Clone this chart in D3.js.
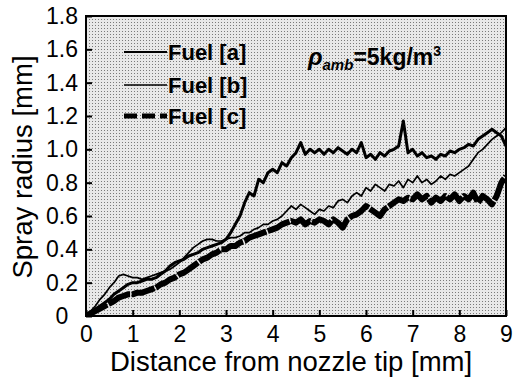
<!DOCTYPE html>
<html>
<head>
<meta charset="utf-8">
<script src="https://cdn.jsdelivr.net/npm/d3@7"></script>
<style>
  body { margin: 0; background: #fff; }
  svg { display: block; font-family: "Liberation Sans", Arial, sans-serif; }
</style>
</head>
<body>
<svg id="chart"></svg>
<script>
// values (spray radius in mm, every 0.1 mm)
var distance = [
  0.0, 0.1, 0.2, 0.3, 0.4, 0.5, 0.6, 0.7, 0.8, 0.9,
  1.0, 1.1, 1.2, 1.3, 1.4, 1.5, 1.6, 1.7, 1.8, 1.9,
  2.0, 2.1, 2.2, 2.3, 2.4, 2.5, 2.6, 2.7, 2.8, 2.9,
  3.0, 3.1, 3.2, 3.3, 3.4, 3.5, 3.6, 3.7, 3.8, 3.9,
  4.0, 4.1, 4.2, 4.3, 4.4, 4.5, 4.6, 4.7, 4.8, 4.9,
  5.0, 5.1, 5.2, 5.3, 5.4, 5.5, 5.6, 5.7, 5.8, 5.9,
  6.0, 6.1, 6.2, 6.3, 6.4, 6.5, 6.6, 6.7, 6.8, 6.9,
  7.0, 7.1, 7.2, 7.3, 7.4, 7.5, 7.6, 7.7, 7.8, 7.9,
  8.0, 8.1, 8.2, 8.3, 8.4, 8.5, 8.6, 8.7, 8.8, 8.9,
  9.0
];

var fuelA = [
  0.00, 0.02, 0.04, 0.06, 0.08, 0.10, 0.13, 0.15, 0.17, 0.19,
  0.20, 0.20, 0.21, 0.22, 0.22, 0.23, 0.25, 0.27, 0.30, 0.32,
  0.33, 0.34, 0.36, 0.37, 0.38, 0.40, 0.41, 0.42, 0.43, 0.44,
  0.46, 0.50, 0.55, 0.60, 0.68, 0.74, 0.72, 0.82, 0.80, 0.86,
  0.88, 0.86, 0.92, 0.90, 0.95, 0.98, 1.04, 0.97, 1.00, 0.98,
  1.00, 0.97, 1.00, 0.98, 1.01, 0.99, 0.97, 1.00, 0.98, 1.04,
  0.95, 0.97, 0.94, 0.98, 0.96, 0.99, 1.00, 1.02, 1.17, 0.98,
  1.00, 0.96, 0.98, 0.95, 0.96, 0.94, 0.97, 0.96, 0.99, 0.98,
  1.00, 1.01, 1.03, 1.02, 1.06, 1.08, 1.10, 1.12, 1.10, 1.08,
  1.02
];

var fuelB = [
  0.00, 0.03, 0.06, 0.10, 0.13, 0.17, 0.20, 0.24, 0.25, 0.24,
  0.23, 0.23, 0.22, 0.23, 0.24, 0.25, 0.26, 0.27, 0.28, 0.30,
  0.32, 0.35, 0.38, 0.41, 0.43, 0.45, 0.46, 0.46, 0.45, 0.45,
  0.46, 0.47, 0.47, 0.48, 0.50, 0.50, 0.52, 0.53, 0.55, 0.55,
  0.57, 0.58, 0.60, 0.63, 0.66, 0.64, 0.67, 0.65, 0.63, 0.61,
  0.64, 0.63, 0.66, 0.65, 0.69, 0.70, 0.68, 0.72, 0.74, 0.72,
  0.77, 0.75, 0.79, 0.77, 0.75, 0.79, 0.78, 0.81, 0.77, 0.82,
  0.80, 0.84, 0.80, 0.82, 0.79, 0.81, 0.84, 0.82, 0.85, 0.84,
  0.86, 0.88, 0.90, 0.94, 0.98, 1.00, 1.03, 1.06, 1.08, 1.10,
  1.13
];

var fuelC = [
  0.00, 0.015, 0.03, 0.045, 0.06, 0.075, 0.09, 0.11, 0.12, 0.13,
  0.13, 0.14, 0.14, 0.15, 0.16, 0.17, 0.19, 0.20, 0.22, 0.23,
  0.25, 0.26, 0.28, 0.30, 0.32, 0.34, 0.35, 0.37, 0.38, 0.40,
  0.40, 0.42, 0.42, 0.44, 0.45, 0.47, 0.48, 0.49, 0.50, 0.51,
  0.52, 0.53, 0.55, 0.56, 0.57, 0.56, 0.58, 0.55, 0.57, 0.56,
  0.58, 0.57, 0.55, 0.58, 0.56, 0.53, 0.58, 0.60, 0.61, 0.63,
  0.66, 0.64, 0.62, 0.60, 0.64, 0.66, 0.68, 0.70, 0.69, 0.71,
  0.70, 0.73, 0.70, 0.72, 0.68, 0.71, 0.69, 0.72, 0.70, 0.73,
  0.69, 0.72, 0.70, 0.74, 0.68, 0.72, 0.70, 0.67, 0.72, 0.80,
  0.84
];

var seriesNames = ['Fuel [a]', 'Fuel [b]', 'Fuel [c]'];
var xTicks = [0, 1, 2, 3, 4, 5, 6, 7, 8, 9];
var yTicks = [0, 0.2, 0.4, 0.6, 0.8, 1.0, 1.2, 1.4, 1.6, 1.8];
var yTickLabels = ['0', '0.2', '0.4', '0.6', '0.8', '1.0', '1.2', '1.4', '1.6', '1.8'];

// layout
var margin = {top: 16, right: 9, bottom: 64, left: 86};
var width = 515 - margin.left - margin.right;
var height = 380 - margin.top - margin.bottom;

var x = d3.scaleLinear().domain([0, 9]).range([0, width]);
var y = d3.scaleLinear().domain([0, 1.8]).range([height, 0]);

var svg = d3.select('#chart')
  .attr('width', 515)
  .attr('height', 380);

// halftone-like background of the scanned plot
var defs = svg.append('defs');
var pattern = defs.append('pattern')
  .attr('id', 'halftone')
  .attr('patternUnits', 'userSpaceOnUse')
  .attr('width', 3)
  .attr('height', 3);
pattern.append('rect').attr('width', 3).attr('height', 3).attr('fill', '#e8e8e8');
pattern.append('rect').attr('width', 1).attr('height', 1).attr('fill', '#7a7a7a');

defs.append('clipPath').attr('id', 'plot-clip')
  .append('rect').attr('width', width).attr('height', height);

var g = svg.append('g')
  .attr('transform', 'translate(' + margin.left + ',' + margin.top + ')');

g.append('rect')
  .attr('width', width)
  .attr('height', height)
  .attr('fill', 'url(#halftone)');

// series lines
var series = [
  {name: seriesNames[0], values: fuelA, width: 3, dash: null},
  {name: seriesNames[1], values: fuelB, width: 1.7, dash: null},
  {name: seriesNames[2], values: fuelC, width: 6, dash: '24,1.5'}
];

var line = d3.line()
  .x(function(d, i) { return x(distance[i]); })
  .y(function(d) { return y(d); });

g.append('g')
  .attr('clip-path', 'url(#plot-clip)')
  .selectAll('path')
  .data(series.slice().reverse())
  .enter()
  .append('path')
    .attr('d', function(d) { return line(d.values); })
    .attr('fill', 'none')
    .attr('stroke', '#000')
    .attr('stroke-width', function(d) { return d.width; })
    .attr('stroke-dasharray', function(d) { return d.dash; })
    .attr('stroke-linejoin', 'round');

// axes with inward ticks
var xAxis = d3.axisBottom(x)
  .tickValues(xTicks)
  .tickFormat(d3.format('d'))
  .tickSizeInner(-6)
  .tickSizeOuter(0)
  .tickPadding(10);

var yAxis = d3.axisLeft(y)
  .tickValues(yTicks)
  .tickFormat(function(d, i) { return yTickLabels[i]; })
  .tickSizeInner(-6)
  .tickSizeOuter(0)
  .tickPadding(24);

g.append('g')
  .attr('transform', 'translate(0,' + height + ')')
  .call(xAxis)
  .call(function(a) { a.select('.domain').remove(); })
  .attr('font-family', null)
  .attr('font-size', 23);

g.append('g')
  .call(yAxis)
  .call(function(a) { a.select('.domain').remove(); })
  .attr('font-family', null)
  .attr('font-size', 23)
  .attr('text-anchor', 'middle');

g.selectAll('.tick line')
  .attr('stroke', '#000')
  .attr('stroke-width', 2);

// plot frame
g.append('rect')
  .attr('width', width)
  .attr('height', height)
  .attr('fill', 'none')
  .attr('stroke', '#000')
  .attr('stroke-width', 2);

// legend
var legend = svg.append('g').attr('class', 'legend');
var legendRows = [52, 85, 116];
var legendItem = legend.selectAll('g')
  .data(series)
  .enter()
  .append('g')
    .attr('transform', function(d, i) { return 'translate(124,' + legendRows[i] + ')'; });

legendItem.append('line')
  .attr('x1', 0)
  .attr('x2', 43)
  .attr('stroke', '#000')
  .attr('stroke-width', function(d, i) { return i === 2 ? 5 : (i === 0 ? 2.2 : 1.6); })
  .attr('stroke-dasharray', function(d, i) { return i === 2 ? '13,5' : null; });

legendItem.append('text')
  .attr('x', 44)
  .attr('y', 7.5)
  .attr('font-size', 22)
  .attr('font-weight', 'bold')
  .text(function(d) { return d.name; });

// ambient density note
var note = svg.append('text')
  .attr('x', 308)
  .attr('y', 65)
  .attr('font-weight', 'bold');
note.append('tspan').attr('font-size', 24).attr('font-style', 'italic').text('ρ');
note.append('tspan').attr('font-size', 15).attr('font-style', 'italic').attr('dy', 5).text('amb');
note.append('tspan').attr('font-size', 23).attr('dy', -5).text('=5kg/m');
note.append('tspan').attr('font-size', 14).attr('dy', -9).text('3');

// axis titles
svg.append('text')
  .attr('x', 291)
  .attr('y', 371)
  .attr('text-anchor', 'middle')
  .attr('font-size', 27.5)
  .text('Distance from nozzle tip [mm]');

svg.append('text')
  .attr('transform', 'translate(32,167) rotate(-90)')
  .attr('text-anchor', 'middle')
  .attr('font-size', 27.5)
  .text('Spray radius [mm]');
</script>
</body>
</html>
